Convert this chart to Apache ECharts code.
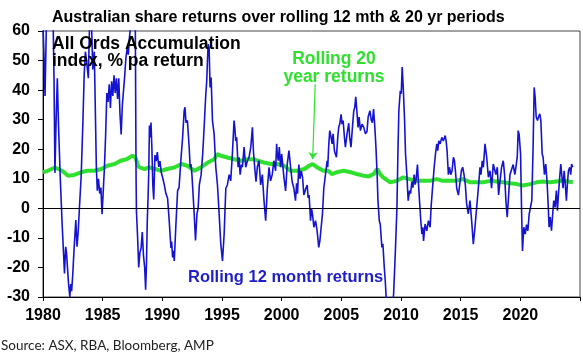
<!DOCTYPE html>
<html>
<head>
<meta charset="utf-8">
<script src="https://cdn.jsdelivr.net/npm/echarts@6/dist/echarts.min.js"></script>
<style>
html,body{margin:0;padding:0;background:#fff;}
#chart{width:583px;height:357px;}
</style>
</head>
<body>
<div id="chart"></div>
<script>
// Rolling 12 month returns (% pa), by decimal year
const blueYears = [1980.00,1980.08,1980.17,1980.25,1980.33,1980.5,1980.67,1980.83,1980.92,1981.0,1981.1,1981.2,1981.3,1981.45,1981.6,1981.72,1981.8,1981.9,1981.97,1982.05,1982.15,1982.25,1982.32,1982.4,1982.5,1982.6,1982.75,1982.85,1982.95,1983.05,1983.2,1983.35,1983.45,1983.55,1983.65,1983.8,1983.9,1984.0,1984.1,1984.17,1984.3,1984.4,1984.47,1984.55,1984.65,1984.75,1984.85,1984.95,1985.05,1985.15,1985.25,1985.35,1985.45,1985.55,1985.65,1985.75,1985.85,1985.95,1986.05,1986.15,1986.25,1986.35,1986.45,1986.55,1986.65,1986.75,1986.85,1986.95,1987.05,1987.15,1987.25,1987.35,1987.45,1987.55,1987.65,1987.72,1987.8,1987.83,1987.92,1988.02,1988.12,1988.22,1988.32,1988.42,1988.52,1988.6,1988.67,1988.74,1988.8,1988.86,1988.92,1988.97,1989.05,1989.12,1989.2,1989.28,1989.38,1989.48,1989.58,1989.7,1989.8,1989.92,1990.05,1990.16,1990.3,1990.44,1990.58,1990.72,1990.78,1990.86,1990.94,1991.0,1991.14,1991.28,1991.4,1991.55,1991.7,1991.83,1991.9,1991.98,1992.1,1992.25,1992.33,1992.4,1992.48,1992.67,1992.78,1992.9,1993.0,1993.1,1993.25,1993.38,1993.5,1993.64,1993.72,1993.78,1993.84,1993.92,1994.0,1994.09,1994.2,1994.34,1994.48,1994.62,1994.76,1994.9,1995.04,1995.18,1995.32,1995.45,1995.6,1995.73,1995.87,1996.01,1996.07,1996.15,1996.23,1996.35,1996.43,1996.52,1996.63,1996.71,1996.85,1996.99,1997.13,1997.27,1997.41,1997.55,1997.63,1997.74,1997.85,1997.96,1998.1,1998.24,1998.38,1998.52,1998.66,1998.8,1998.94,1999.07,1999.21,1999.35,1999.49,1999.58,1999.63,1999.72,1999.8,1999.91,2000.0,2000.1,2000.19,2000.33,2000.47,2000.61,2000.75,2000.88,2001.02,2001.16,2001.25,2001.33,2001.44,2001.53,2001.64,2001.75,2001.86,2001.94,2002.03,2002.14,2002.22,2002.3,2002.42,2002.5,2002.58,2002.7,2002.84,2002.97,2003.11,2003.2,2003.31,2003.42,2003.53,2003.67,2003.81,2003.86,2003.95,2004.03,2004.14,2004.23,2004.31,2004.42,2004.5,2004.59,2004.7,2004.78,2004.87,2004.98,2005.06,2005.15,2005.26,2005.34,2005.48,2005.62,2005.7,2005.81,2005.93,2006.04,2006.12,2006.21,2006.32,2006.4,2006.49,2006.6,2006.74,2006.88,2007.02,2007.15,2007.25,2007.4,2007.5,2007.6,2007.7,2007.8,2007.9,2008.0,2008.07,2008.18,2008.26,2008.4,2008.48,2008.6,2008.68,2008.77,2008.9,2009.05,2009.17,2009.3,2009.38,2009.52,2009.66,2009.74,2009.82,2009.94,2010.02,2010.1,2010.21,2010.3,2010.38,2010.49,2010.6,2010.72,2010.8,2010.91,2011.0,2011.1,2011.19,2011.27,2011.38,2011.47,2011.55,2011.66,2011.75,2011.83,2011.89,2012.02,2012.16,2012.3,2012.44,2012.52,2012.64,2012.78,2012.89,2013.0,2013.08,2013.17,2013.28,2013.42,2013.55,2013.7,2013.78,2013.86,2013.97,2014.06,2014.17,2014.28,2014.39,2014.48,2014.56,2014.67,2014.81,2014.95,2015.06,2015.17,2015.28,2015.39,2015.5,2015.64,2015.78,2015.92,2016.06,2016.2,2016.34,2016.48,2016.62,2016.7,2016.81,2016.9,2017.04,2017.18,2017.32,2017.46,2017.59,2017.73,2017.87,2017.95,2018.07,2018.18,2018.29,2018.43,2018.57,2018.68,2018.79,2018.9,2019.01,2019.13,2019.27,2019.4,2019.54,2019.63,2019.74,2019.82,2019.9,2020.02,2020.1,2020.18,2020.29,2020.41,2020.52,2020.63,2020.74,2020.85,2020.96,2021.07,2021.16,2021.24,2021.33,2021.44,2021.52,2021.63,2021.72,2021.83,2021.91,2022.02,2022.13,2022.24,2022.33,2022.41,2022.5,2022.61,2022.69,2022.8,2022.91,2023.02,2023.11,2023.19,2023.3,2023.39,2023.47,2023.58,2023.67,2023.75,2023.86,2023.94,2024.03,2024.14,2024.22,2024.3,2024.39];
const blueValues = [62,52,38,55,72,80,75,68,45,12,30,44,28,10,-5,-15,-22,-13,-15,-20,-26,-30,-25.6,-28,-22,-14,-4,-13,-8,0,11,30,45,53,50,44,62,68,58,47,53,30,14,6,10,5,7,-2,6,14,25,39,36,42,34,43,38,45,39,44,37,44,32,25,35,40,45,51,54,52,58,62,70,78,85,75,10,-1,-9,-20,-15,-13.5,-8,-16,-20,-27.5,-19,-4,3,12,28,24,29,21,8,3,18,16,19,14,16,12,10,8,5,3.4,-4.4,-13.4,-11.2,-16.6,-14.4,-17.8,-5.3,6,7,16,24,33,34.2,29,29.7,20.6,13.9,15,11.4,-1.9,-10.9,-1.9,0,7.9,11.4,18.2,27.2,38.5,43,49.8,55.5,54.4,40.9,44.3,29.7,25.2,13.9,7.9,-1.9,-12.1,-17.8,-8.7,6.8,7.9,11.4,9.3,18.4,29.7,27.4,22.8,24,13.9,17.3,11.4,14.8,13.9,20.7,13.9,16.1,17.3,20.7,27.4,19.5,13.9,9,14,16.1,7.9,11.4,2.6,-4.2,6.8,13.9,9.3,11.4,16.1,12.7,21.8,18.4,16.1,20.7,13.9,18.4,18.4,10.5,5.9,15,19.5,13.9,9,6.8,2.6,8.5,5,14.8,10,12.7,10.5,4.5,5.5,6.8,7.9,3.5,4.5,-4.2,0,-1.9,-6.4,-4.2,-7.6,-13.2,-11,-6.4,-1.9,6.8,11.4,16.1,13.9,21.8,26.3,24,21.8,25.2,19.5,18.4,17.3,24,27.4,28.5,31.8,28.5,29.7,24,20.7,25.2,28.8,24,20.7,27.4,32.9,34,37.7,32,27.4,30.9,26.3,28.5,27.4,25.2,26,31,33,30,29,33.6,28,20.7,11.4,2.6,-4.2,-5.3,-13.2,-12,-20,-24.5,-31,-38,-42,-38,-33,-29,-15.4,0.3,18.4,33,39.8,38.8,47.8,38.8,29.7,18.4,11.4,2.6,6,5,9,7,11.4,8,10,14.8,8,2.6,-4.2,-8.7,-6.4,-11,-5.3,-7.6,-4.2,-6.4,0.3,6.8,13.9,18.4,21.8,19.5,22.8,21.8,24,22.8,24.6,22.8,19.5,11.4,13.9,11.4,12.7,17.3,16.1,12.7,6.8,4.5,9,12.7,13.9,11.4,8,1.5,-1.9,2.6,-4.2,-12.1,-6.4,0.3,6.8,13.9,11.4,16.1,13.9,21.8,17.3,10.5,12.7,6.8,15,12.7,11.4,13.9,4.5,9,13.9,16.1,11.4,2.6,-3,3.8,11.4,11.4,14.8,11.4,13.9,17.3,26.3,25,18.4,0.3,-14.4,-6.4,-8.7,-5.5,-7.6,-2,0.3,2.6,20.7,40.9,37.6,30.9,29.7,30.9,32,29.7,18.4,17.3,11.4,15,9,1.5,-6.4,-3,-7.6,-3,2.6,0.3,6,-0.8,4.5,10.5,15,11.4,6.8,12.7,9,2.6,8,12.7,13.9,11.4,15,13.9];

// Rolling 20 year returns (% pa)
const greenYears = [1980.0,1980.4,1981.0,1981.3,1981.6,1982.1,1982.6,1983.2,1983.7,1984.3,1984.9,1985.4,1986.0,1986.5,1987.0,1987.5,1987.75,1988.0,1988.1,1988.5,1988.9,1989.4,1989.9,1990.4,1991.0,1991.6,1992.1,1992.7,1993.2,1993.8,1994.35,1994.6,1994.9,1995.45,1996.0,1996.6,1997.1,1997.7,1998.0,1998.5,1999.1,1999.6,2000.2,2000.75,2001.3,2001.9,2002.3,2002.6,2003.0,2003.5,2003.9,2004.2,2004.6,2005.2,2005.8,2006.3,2006.9,2007.3,2007.7,2008.0,2008.25,2008.5,2009.1,2009.65,2010.2,2010.7,2011.3,2011.8,2012.4,2013.0,2013.5,2014.1,2014.6,2015.2,2015.8,2016.3,2016.9,2017.5,2018.0,2018.55,2019.1,2019.7,2020.2,2020.8,2021.35,2021.9,2022.5,2023.0,2023.6,2024.4];
const greenValues = [12.2,12.7,13.8,13.3,12.7,11.0,11.3,12.2,12.7,12.7,13.3,14.4,15.0,16.1,16.6,17.8,17.2,14.0,13.8,13.3,13.8,13.3,12.7,13.3,13.8,15.0,14.4,12.7,13.8,15.5,16.6,18.4,17.8,17.2,16.6,16.1,16.6,16.6,16.1,15.5,15.0,15.0,14.4,12.7,12.7,13.3,14.4,15.0,13.8,12.7,12.7,11.6,12.2,12.7,12.2,11.6,11.0,10.8,11.6,13.3,11.6,10.5,8.8,9.3,10.5,9.9,9.3,9.3,9.3,9.9,9.3,9.3,9.3,9.9,8.8,8.8,8.8,9.3,9.1,8.8,8.5,8.2,7.7,8.2,8.8,9.1,8.8,9.1,9.3,8.8];

const yTicks = {min: -30, max: 60, step: 10};
const xTicks = {min: 1980, max: 2025, step: 5};

const blueData = blueYears.map((y, i) => [y, blueValues[i]]);
const greenData = greenYears.map((y, i) => [y, greenValues[i]]);

const FONT = "'Liberation Sans', Arial, sans-serif";
const GREEN = '#2fe02f';
const BLUE = '#1414d0';

const chart = echarts.init(document.getElementById('chart'), null, {renderer: 'canvas'});
chart.setOption({
  animation: false,
  backgroundColor: '#ffffff',
  title: {
    text: 'Australian share returns over rolling 12 mth & 20 yr periods',
    left: 47, top: 5,
    textStyle: {fontFamily: FONT, fontWeight: 'bold', fontSize: 16, color: '#000'}
  },
  grid: {left: 43, right: 2, top: 31, bottom: 60, show: true, borderColor: '#444', borderWidth: 1, backgroundColor: 'transparent'},
  xAxis: {
    type: 'value', min: xTicks.min, max: xTicks.max, interval: xTicks.step,
    axisLine: {show: true, onZero: false, lineStyle: {color: '#000', width: 1}},
    axisTick: {show: true, inside: false, length: 4, lineStyle: {color: '#000'}},
    splitLine: {show: false},
    axisLabel: {
      margin: 11, color: '#000', fontFamily: FONT, fontWeight: 'bold', fontSize: 16,
      formatter: v => (v >= xTicks.max ? '' : String(v))
    }
  },
  yAxis: {
    type: 'value', min: yTicks.min, max: yTicks.max, interval: yTicks.step,
    axisLine: {show: true, lineStyle: {color: '#000', width: 1}},
    axisTick: {show: true, inside: false, length: 5, lineStyle: {color: '#000'}},
    splitLine: {show: false},
    axisLabel: {margin: 13, color: '#000', fontFamily: FONT, fontWeight: 'bold', fontSize: 16}
  },
  series: [
    {
      name: 'Rolling 20 year returns', type: 'line', data: greenData,
      showSymbol: false, symbol: 'none', z: 2,
      lineStyle: {color: GREEN, width: 4},
      markLine: {
        silent: true, symbol: ['none', 'none'], animation: false,
        label: {show: false},
        data: [
          {yAxis: 0, lineStyle: {color: '#000', width: 1, type: 'solid'}},
          [
            {coord: [2002.81, 42], symbol: 'none', lineStyle: {color: GREEN, width: 1.2, type: 'solid'}},
            {coord: [2002.6, 16.6], symbol: 'arrow', symbolSize: 7}
          ]
        ]
      }
    },
    {
      name: 'Rolling 12 month returns', type: 'line', data: blueData,
      showSymbol: false, symbol: 'none', z: 3,
      lineStyle: {color: BLUE, width: 1.6}
    }
  ],
  graphic: [
    {type: 'text', x: 52, y: 44, z: 10, style: {text: 'All Ords Accumulation', font: "bold 17.5px " + FONT, fill: '#000', align: 'left', verticalAlign: 'middle'}},
    {type: 'text', x: 52, y: 61, z: 10, style: {text: 'index, % pa return', font: "bold 17.5px " + FONT, fill: '#000', align: 'left', verticalAlign: 'middle'}},
    {type: 'text', x: 334, y: 59, z: 10, style: {text: 'Rolling 20', font: "bold 17.5px " + FONT, fill: GREEN, align: 'center', verticalAlign: 'middle'}},
    {type: 'text', x: 334, y: 77, z: 10, style: {text: 'year returns', font: "bold 17.5px " + FONT, fill: GREEN, align: 'center', verticalAlign: 'middle'}},
    {type: 'text', x: 188, y: 277.5, z: 10, style: {text: 'Rolling 12 month returns', font: "bold 16.5px " + FONT, fill: '#1e1ec8', align: 'left', verticalAlign: 'middle'}},
    {type: 'text', x: 1, y: 346, z: 10, style: {text: 'Source: ASX, RBA, Bloomberg, AMP', font: "13.5px Lato, 'Liberation Sans', sans-serif", fill: '#222', align: 'left', verticalAlign: 'middle'}}
  ]
});
</script>
</body>
</html>
